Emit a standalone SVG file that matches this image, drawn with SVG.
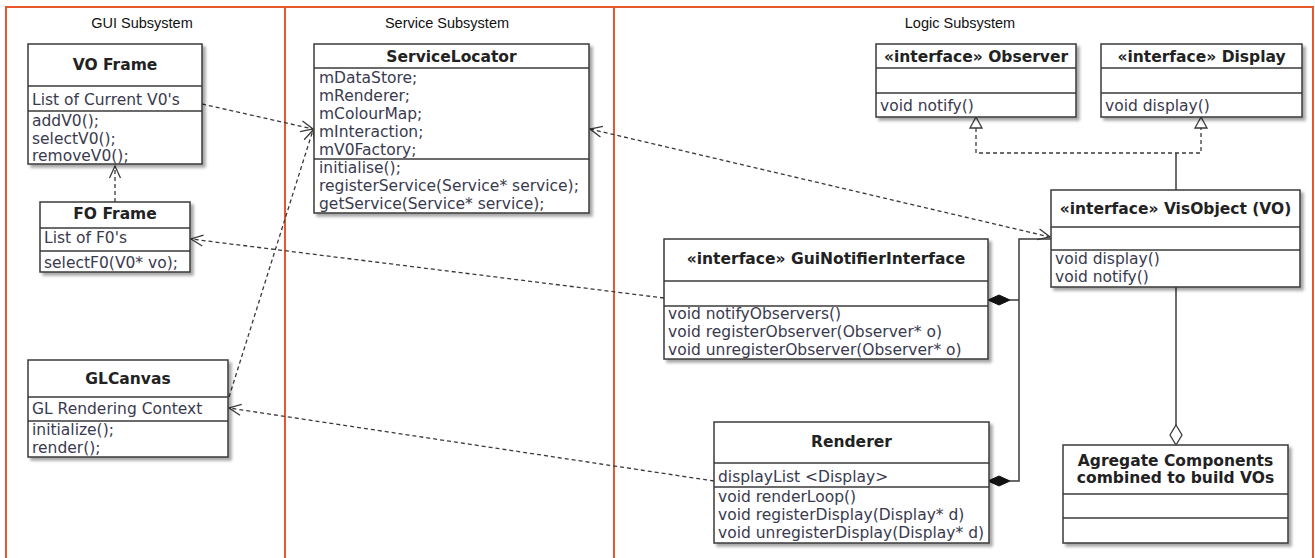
<svg xmlns="http://www.w3.org/2000/svg" width="1315" height="558" viewBox="0 0 1315 558">
<style>
.frame{stroke:#e8582f;stroke-width:2;fill:none}
.hdr{font-family:"Liberation Sans",Arial,sans-serif;font-size:14.5px;fill:#111;text-anchor:middle}
.box{fill:#fff;stroke:#3a3a3a;stroke-width:1.5}
.sep{stroke:#3a3a3a;stroke-width:1.5}
.ttl{font-family:"DejaVu Sans",sans-serif;font-weight:bold;font-size:15.5px;fill:#222;text-anchor:middle}
.mem{font-family:"DejaVu Sans",sans-serif;font-size:15.5px;fill:#3a3a4e}
.dash{fill:none;stroke:#3a3a3a;stroke-width:1.3;stroke-dasharray:4 3}
.solid{fill:none;stroke:#3a3a3a;stroke-width:1.5}
</style>
<defs>
<filter id="sh" x="-10%" y="-10%" width="130%" height="130%">
<feGaussianBlur in="SourceAlpha" stdDeviation="1.5"/>
<feOffset dx="3" dy="3" result="o"/>
<feComponentTransfer><feFuncA type="linear" slope="0.35"/></feComponentTransfer>
<feMerge><feMergeNode/><feMergeNode in="SourceGraphic"/></feMerge>
</filter>
<marker id="open" viewBox="-13 -7 15 14" markerWidth="15" markerHeight="14" refX="0" refY="0" orient="auto-start-reverse" markerUnits="userSpaceOnUse">
<path d="M-12,-5.5 L0,0 L-12,5.5" fill="none" stroke="#3a3a3a" stroke-width="1.3"/>
</marker>
</defs>
<rect width="1315" height="558" fill="#fff"/>
<g id="frames">
<path class="frame" d="M6,560 V7 H1313 V560 M285,7 V560 M614,7 V560"/>
<text class="hdr" x="142" y="28">GUI Subsystem</text>
<text class="hdr" x="447" y="28">Service Subsystem</text>
<text class="hdr" x="960" y="28">Logic Subsystem</text>
</g>
<g id="connectors">
<path class="dash" d="M202,104 L313,129" marker-end="url(#open)"/>
<path class="dash" d="M229,397 L313,130" marker-end="url(#open)"/>
<path class="dash" d="M115,202 L115,166" marker-end="url(#open)"/>
<path class="dash" d="M664,298 L191,239" marker-end="url(#open)"/>
<path class="dash" d="M714,481 L229,408" marker-end="url(#open)"/>
<path class="dash" d="M590,129 L1050,237" marker-start="url(#open)" marker-end="url(#open)"/>
<path class="dash" d="M976,128 V153 H1201 V128"/>
<polygon points="976,117 970,128 982,128" fill="#fff" stroke="#3a3a3a" stroke-width="1.3"/>
<polygon points="1201,117 1195,128 1207,128" fill="#fff" stroke="#3a3a3a" stroke-width="1.3"/>
<path class="solid" d="M1176,153 V190"/>
<path class="solid" d="M1051,239 H1019 V481 H1010 M1019,300 H1010"/>
<polygon points="988,300 999,295 1010,300 999,305" fill="#111" stroke="#111" stroke-width="1"/>
<polygon points="988,481 999,476 1010,481 999,486" fill="#111" stroke="#111" stroke-width="1"/>
<path class="solid" d="M1176,287 V425"/>
<polygon points="1176,425 1182,435 1176,445 1170,435" fill="#fff" stroke="#3a3a3a" stroke-width="1.3"/>
</g>
<g id="voframe">
<rect class="box" x="28" y="44" width="174" height="120" filter="url(#sh)"/>
<line class="sep" x1="28" y1="86" x2="202" y2="86"/>
<line class="sep" x1="28" y1="111" x2="202" y2="111"/>
<text class="ttl" x="115" y="70">VO Frame</text>
<text class="mem" x="32" y="105">List of Current V0's</text>
<text class="mem" x="32" y="126">addV0();</text>
<text class="mem" x="32" y="143.5">selectV0();</text>
<text class="mem" x="32" y="161">removeV0();</text>
</g>
<g id="foframe">
<rect class="box" x="40" y="202" width="150" height="70" filter="url(#sh)"/>
<line class="sep" x1="40" y1="228" x2="190" y2="228"/>
<line class="sep" x1="40" y1="251" x2="190" y2="251"/>
<text class="ttl" x="115" y="219">FO Frame</text>
<text class="mem" x="44" y="243">List of F0's</text>
<text class="mem" x="44" y="268">selectF0(V0* vo);</text>
</g>
<g id="glcanvas">
<rect class="box" x="28" y="360" width="200" height="97" filter="url(#sh)"/>
<line class="sep" x1="28" y1="397" x2="228" y2="397"/>
<line class="sep" x1="28" y1="421" x2="228" y2="421"/>
<text class="ttl" x="128" y="384">GLCanvas</text>
<text class="mem" x="32" y="414">GL Rendering Context</text>
<text class="mem" x="32" y="435">initialize();</text>
<text class="mem" x="32" y="453">render();</text>
</g>
<g id="servicelocator">
<rect class="box" x="314" y="44" width="275" height="169" filter="url(#sh)"/>
<line class="sep" x1="314" y1="68" x2="589" y2="68"/>
<line class="sep" x1="314" y1="159" x2="589" y2="159"/>
<text class="ttl" x="451.5" y="62">ServiceLocator</text>
<text class="mem" x="319" y="83">mDataStore;</text>
<text class="mem" x="319" y="101">mRenderer;</text>
<text class="mem" x="319" y="119">mColourMap;</text>
<text class="mem" x="319" y="137">mInteraction;</text>
<text class="mem" x="319" y="155">mV0Factory;</text>
<text class="mem" x="319" y="173">initialise();</text>
<text class="mem" x="319" y="191">registerService(Service* service);</text>
<text class="mem" x="319" y="209">getService(Service* service);</text>
</g>
<g id="observer">
<rect class="box" x="876" y="44" width="200" height="73" filter="url(#sh)"/>
<line class="sep" x1="876" y1="68" x2="1076" y2="68"/>
<line class="sep" x1="876" y1="93" x2="1076" y2="93"/>
<text class="ttl" x="976" y="62">«interface» Observer</text>
<text class="mem" x="880" y="111">void notify()</text>
</g>
<g id="display">
<rect class="box" x="1101" y="44" width="201" height="73" filter="url(#sh)"/>
<line class="sep" x1="1101" y1="68" x2="1302" y2="68"/>
<line class="sep" x1="1101" y1="93" x2="1302" y2="93"/>
<text class="ttl" x="1201.5" y="62">«interface» Display</text>
<text class="mem" x="1105" y="111">void display()</text>
</g>
<g id="visobject">
<rect class="box" x="1051" y="190" width="249" height="97" filter="url(#sh)"/>
<line class="sep" x1="1051" y1="227" x2="1300" y2="227"/>
<line class="sep" x1="1051" y1="250" x2="1300" y2="250"/>
<text class="ttl" x="1175.5" y="214">«interface» VisObject (VO)</text>
<text class="mem" x="1055" y="264">void display()</text>
<text class="mem" x="1055" y="282">void notify()</text>
</g>
<g id="guinotifier">
<rect class="box" x="664" y="239" width="324" height="120" filter="url(#sh)"/>
<line class="sep" x1="664" y1="281" x2="988" y2="281"/>
<line class="sep" x1="664" y1="306" x2="988" y2="306"/>
<text class="ttl" x="826" y="264">«interface» GuiNotifierInterface</text>
<text class="mem" x="668" y="319">void notifyObservers()</text>
<text class="mem" x="668" y="337">void registerObserver(Observer* o)</text>
<text class="mem" x="668" y="355">void unregisterObserver(Observer* o)</text>
</g>
<g id="renderer">
<rect class="box" x="714" y="422" width="275" height="121" filter="url(#sh)"/>
<line class="sep" x1="714" y1="463" x2="989" y2="463"/>
<line class="sep" x1="714" y1="487" x2="989" y2="487"/>
<text class="ttl" x="851.5" y="447">Renderer</text>
<text class="mem" x="718" y="482">displayList &lt;Display&gt;</text>
<text class="mem" x="718" y="502">void renderLoop()</text>
<text class="mem" x="718" y="520">void registerDisplay(Display* d)</text>
<text class="mem" x="718" y="538">void unregisterDisplay(Display* d)</text>
</g>
<g id="agregate">
<rect class="box" x="1063" y="445" width="225" height="98" filter="url(#sh)"/>
<line class="sep" x1="1063" y1="494" x2="1288" y2="494"/>
<line class="sep" x1="1063" y1="518" x2="1288" y2="518"/>
<text class="ttl" x="1175.5" y="466">Agregate Components</text>
<text class="ttl" x="1175.5" y="483">combined to build VOs</text>
</g>
</svg>
